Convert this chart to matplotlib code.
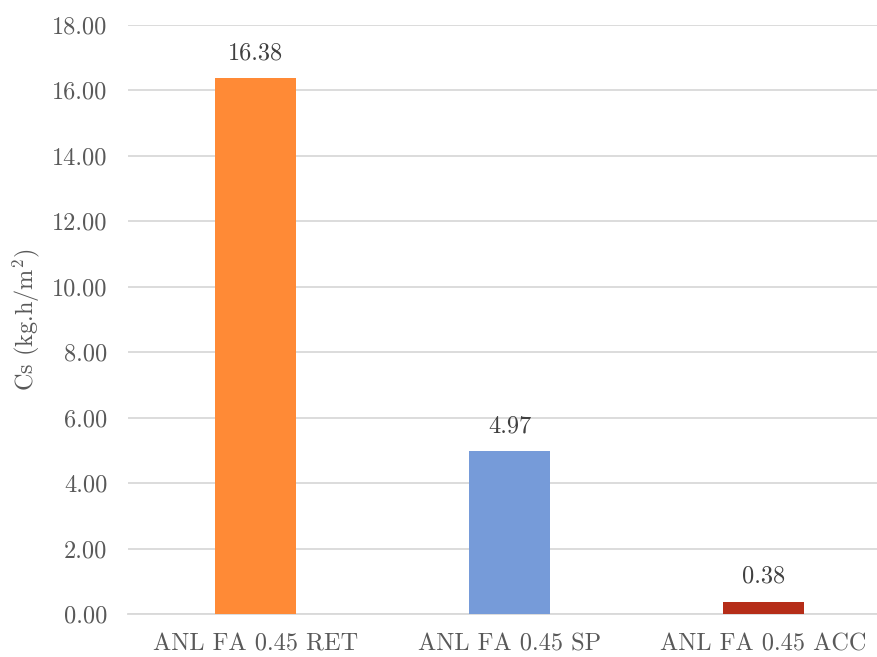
import matplotlib.pyplot as plt

categories = ["ANL FA 0.45 RET", "ANL FA 0.45 SP", "ANL FA 0.45 ACC"]
values = [16.38, 4.97, 0.38]
colors = ["#FF8A36", "#769BD9", "#B52D18"]
yticks = [0, 2, 4, 6, 8, 10, 12, 14, 16, 18]

plt.rcParams["font.family"] = "cmr10"
plt.rcParams["mathtext.fontset"] = "cm"
plt.rcParams["axes.formatter.use_mathtext"] = True

fig = plt.figure(figsize=(8.78, 6.57), dpi=100)
ax = fig.add_axes([0.146, 0.0655, 0.854, 0.8965])

x = range(len(categories))
bars = ax.bar(x, values, width=0.32, color=colors, zorder=3)
for b, v in zip(bars, values):
    ax.annotate(f"{v:.2f}", (b.get_x() + b.get_width() / 2, v),
                xytext=(0, 10), textcoords="offset points",
                ha="center", va="bottom", fontsize=17.5, color="#404040")

ax.set_xlim(-0.5, 2.45)
ax.set_ylim(0, 18)
ax.set_yticks(yticks)
ax.set_yticklabels([f"{t:.2f}" for t in yticks])
ax.set_xticks(list(x))
ax.set_xticklabels(categories)
ax.yaxis.grid(True, color="#D9D9D9", linewidth=1.3, zorder=0)
ax.set_axisbelow(True)

for s in ["top", "right", "left"]:
    ax.spines[s].set_visible(False)
ax.spines["bottom"].set_color("#D9D9D9")
ax.spines["bottom"].set_linewidth(1.3)

ax.tick_params(axis="both", length=0, labelsize=17.5, colors="#595959")
ax.tick_params(axis="y", pad=15)
ax.tick_params(axis="x", pad=14)
ax.set_ylabel(r"Cs (kg.h/m$^2$)", fontsize=17.5, color="#595959")
ax.yaxis.set_label_coords(-0.115, 0.5)

fig.savefig("out.png", dpi=100)
